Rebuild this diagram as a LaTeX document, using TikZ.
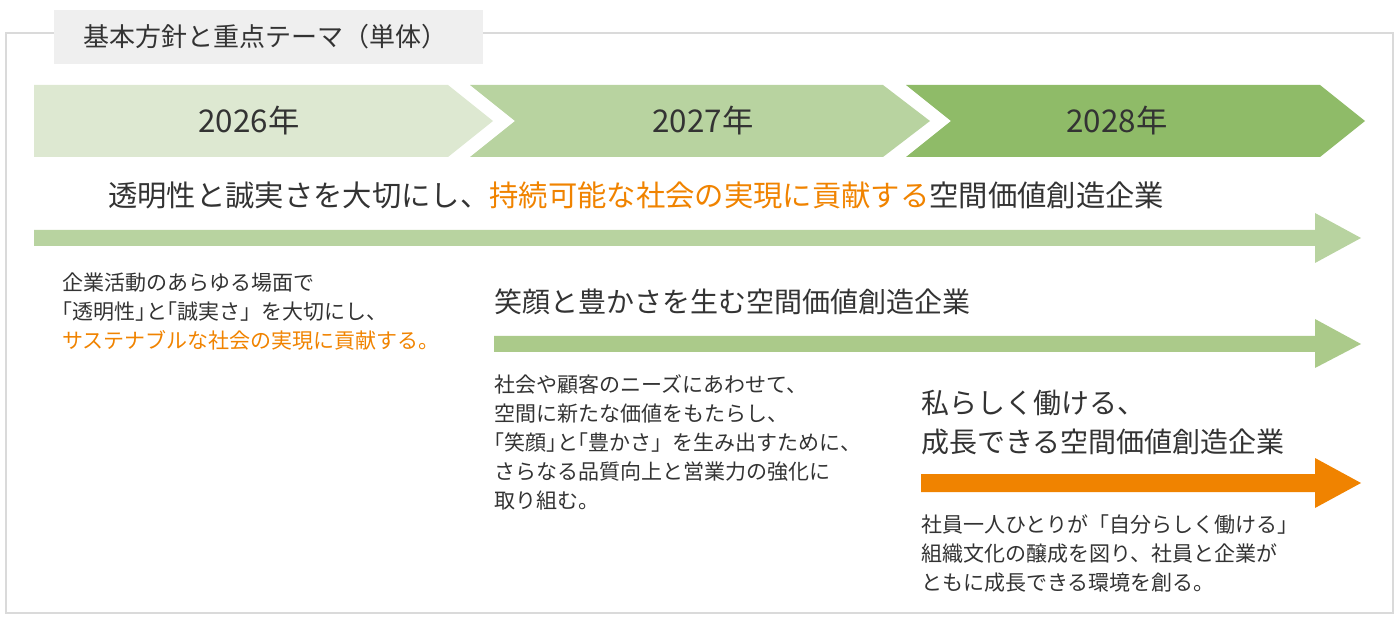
\documentclass[tikz,border=0pt]{standalone}
\usepackage{fontspec}
\setmainfont{Noto Sans CJK JP}
\usetikzlibrary{positioning}
\definecolor{textgray}{HTML}{333333}
\definecolor{framegray}{HTML}{DADADA}
\definecolor{tabgray}{HTML}{EFEFEF}
\definecolor{leafgreen}{HTML}{DDE8D1}
\definecolor{sagegreen}{HTML}{B8D3A0}
\definecolor{mossgreen}{HTML}{ABCA8A}
\definecolor{fieldgreen}{HTML}{8FBB68}
\definecolor{accentorange}{HTML}{F08300}
% half-width brackets
\newcommand{\opnbr}{\kern-.5em「}
\newcommand{\clsbr}{」\kern-.5em}

\begin{document}
\begin{tikzpicture}[x=0.75pt, y=-0.75pt]
        \tikzstyle{tabtitle} = [anchor=west, inner sep=0pt, font=\fontsize{19.5}{24}\selectfont, text=textgray]
        \tikzstyle{year} = [inner sep=0pt, font=\fontsize{23.5}{28}\selectfont, text=textgray]
        \tikzstyle{heading} = [anchor=west, inner sep=0pt, font=\fontsize{21}{29.25}\selectfont, text=textgray]
        \tikzstyle{body} = [anchor=north west, inner sep=0pt, align=left, font=\fontsize{15.75}{21.75}\selectfont, text=textgray]

        \useasboundingbox (0,0) rectangle (1400,620);

        % frame and tab
        \draw[framegray, line width=1.5pt] (6,33) rectangle (1393,613);
        \fill[tabgray] (54,10) rectangle (483,64);
        \node[tabtitle] (tab) at (83,37) {基本方針と重点テーマ（単体）};

        % years
        \fill[leafgreen] (34,85) -- (448,85) -- (493,121) -- (448,157) -- (34,157) -- cycle;
        \fill[sagegreen] (470,85) -- (883,85) -- (930,121) -- (883,157) -- (470,157) -- (515,121) -- cycle;
        \fill[fieldgreen] (906,85) -- (1320,85) -- (1365,121) -- (1320,157) -- (906,157) -- (951,121) -- cycle;
        \node[year] (y2026) at (249,121) {2026年};
        \node[year] (y2027) at (703,121) {2027年};
        \node[year] (y2028) at (1117,121) {2028年};

        % 2026
        \node[heading, font=\fontsize{22}{29.25}\selectfont] (vision) at (108,195) {透明性と誠実さを大切にし、\textcolor{accentorange}{持続可能な社会の実現に貢献する}空間価値創造企業};
        \fill[sagegreen] (34,230) -- (1315,230) -- (1315,213) -- (1361,238) -- (1315,263) -- (1315,246) -- (34,246) -- cycle;
        \node[body] (text2026) at (62,273) {企業活動のあらゆる場面で\\\opnbr 透明性\clsbr と\opnbr 誠実さ」を大切にし、\\\textcolor{accentorange}{サステナブルな社会の実現に貢献する。}};

        % 2027
        \node[heading] (smile) at (494,302) {笑顔と豊かさを生む空間価値創造企業};
        \fill[mossgreen] (494,336) -- (1315,336) -- (1315,319) -- (1361,344) -- (1315,368) -- (1315,352) -- (494,352) -- cycle;
        \node[body] (text2027) at (494,374) {社会や顧客のニーズにあわせて、\\空間に新たな価値をもたらし、\\\opnbr 笑顔\clsbr と\opnbr 豊かさ」を生み出すために、\\さらなる品質向上と営業力の強化に\\取り組む。};

        % 2028
        \node[heading, anchor=north west, align=left] (growth) at (921,390) {私らしく働ける、\\成長できる空間価値創造企業};
        \fill[accentorange] (921,474) -- (1315,474) -- (1315,458) -- (1361,483) -- (1315,508) -- (1315,492) -- (921,492) -- cycle;
        \node[body] (text2028) at (921,514) {社員一人ひとりが「自分らしく働ける」\\組織文化の醸成を図り、社員と企業が\\ともに成長できる環境を創る。};

    \end{tikzpicture}
\end{document}
